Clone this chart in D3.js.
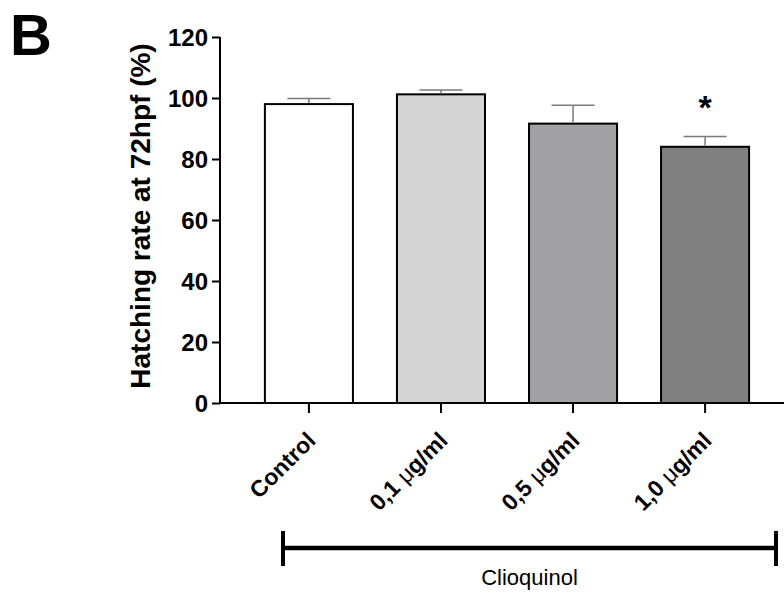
<!DOCTYPE html>
<html>
<head>
<meta charset="utf-8">
<script src="https://cdn.jsdelivr.net/npm/d3@7"></script>
<style>
  html, body { margin: 0; padding: 0; background: #fff; }
  svg { display: block; font-family: Arial, "Liberation Sans", Helvetica, sans-serif; }
</style>
</head>
<body>
<svg id="chart" width="784" height="592"></svg>
<script>
const categories = ["Control", "0,1 \u03bcg/ml", "0,5 \u03bcg/ml", "1,0 \u03bcg/ml"];
const means = [98.0, 101.2, 91.6, 84.0];
const errors = [1.8, 1.4, 6.0, 3.4];
const fills = ["#ffffff", "#d4d4d4", "#a1a1a4", "#808080"];
const significance = ["", "", "", "*"];
const yTicks = [0, 20, 40, 60, 80, 100, 120];
const yLabel = "Hatching rate at 72hpf (%)";
const groupLabel = "Clioquinol";
const panelLabel = "B";

const FONT = "Arial, 'Liberation Sans', sans-serif";
const svg = d3.select("#chart");

const x = d3.scaleBand().domain(categories).range([220, 794])
  .paddingInner(1/3).paddingOuter(0.34);
const y = d3.scaleLinear().domain([0, 120]).range([403, 37]);

// Bars
svg.selectAll("rect.bar").data(categories).join("rect")
  .attr("class", "bar")
  .attr("x", d => x(d))
  .attr("width", x.bandwidth())
  .attr("y", (d, i) => y(means[i]))
  .attr("height", (d, i) => y(0) - y(means[i]))
  .attr("fill", (d, i) => fills[i])
  .attr("stroke", "#000")
  .attr("stroke-width", 2);

// Error bars
const cx = d => x(d) + x.bandwidth() / 2;
const capHalf = 21.5;
const eb = svg.append("g").attr("stroke", "#7a7a7a").attr("stroke-width", 1.5);
eb.selectAll("line.stem").data(categories).join("line")
  .attr("x1", cx).attr("x2", cx)
  .attr("y1", (d, i) => y(means[i]) - 1)
  .attr("y2", (d, i) => y(means[i] + errors[i]));
eb.selectAll("line.cap").data(categories).join("line")
  .attr("x1", d => cx(d) - capHalf).attr("x2", d => cx(d) + capHalf)
  .attr("y1", (d, i) => y(means[i] + errors[i]))
  .attr("y2", (d, i) => y(means[i] + errors[i]));

// Significance
svg.selectAll("text.sig").data(categories).join("text")
  .attr("class", "sig")
  .attr("x", cx)
  .attr("y", (d, i) => y(means[i] + errors[i]) - 17)
  .attr("text-anchor", "middle")
  .attr("font-family", FONT)
  .attr("font-size", 34)
  .attr("font-weight", "bold")
  .text((d, i) => significance[i]);

// Y axis
const yAxis = svg.append("g").attr("transform", "translate(220,0)")
  .call(d3.axisLeft(y).tickValues(yTicks).tickSize(8).tickPadding(4).tickSizeOuter(0));
yAxis.attr("font-size", null).attr("font-family", null);
yAxis.select(".domain").attr("stroke-width", 2).attr("d", `M0,${y(120)}V${y(0)}`);
yAxis.selectAll(".tick line").attr("stroke-width", 2);
yAxis.selectAll(".tick text")
  .style("font-size", "24px").style("font-weight", "bold").style("font-family", FONT)
  .attr("fill", "#000").attr("dy", "0.36em");

// X axis
const xAxis = svg.append("g").attr("transform", `translate(0,${y(0)})`)
  .call(d3.axisBottom(x).tickSize(10).tickSizeOuter(0));
xAxis.attr("font-size", null).attr("font-family", null);
xAxis.select(".domain").attr("stroke-width", 2).attr("d", `M220,0H784`);
xAxis.selectAll(".tick line").attr("stroke-width", 2);
xAxis.selectAll(".tick text").each(function(d) {
  const t = d3.select(this);
  t.text(null)
    .style("font-size", "23px").style("font-weight", "bold").style("font-family", FONT)
    .attr("fill", "#000")
    .attr("text-anchor", "end")
    .attr("dy", null).attr("y", null)
    .attr("transform", "translate(8,39) rotate(-45)");
  const m = d.indexOf("\u03bc");
  if (m < 0) { t.text(d); return; }
  t.append("tspan").text(d.slice(0, m));
  t.append("tspan").style("font-weight", "normal").text("\u03bc");
  t.append("tspan").text(d.slice(m + 1));
});

// Y label
svg.append("text")
  .attr("transform", "translate(150,216) rotate(-90)")
  .attr("text-anchor", "middle")
  .style("font-family", FONT)
  .style("font-size", "28px").style("font-weight", "bold")
  .text(yLabel);

// Panel label
svg.append("text").attr("x", 10).attr("y", 55)
  .style("font-family", FONT)
  .style("font-size", "58px").style("font-weight", "bold").text(panelLabel);

// Group bracket
const bx1 = 283, bx2 = 776, by = 548;
const br = svg.append("g").attr("stroke", "#000");
br.append("line").attr("x1", bx1).attr("x2", bx2).attr("y1", by).attr("y2", by).attr("stroke-width", 4.5);
br.append("line").attr("x1", bx1).attr("x2", bx1).attr("y1", 531).attr("y2", 566).attr("stroke-width", 4);
br.append("line").attr("x1", bx2).attr("x2", bx2).attr("y1", 531).attr("y2", 566).attr("stroke-width", 4);
svg.append("text").attr("x", (bx1 + bx2) / 2).attr("y", 585)
  .attr("text-anchor", "middle")
  .style("font-family", FONT).style("font-size", "22px").text(groupLabel);
</script>
</body>
</html>
